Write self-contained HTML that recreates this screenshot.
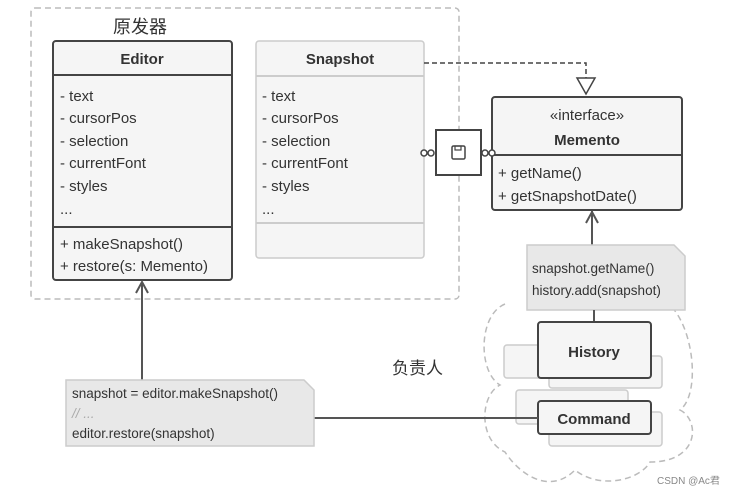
<!DOCTYPE html>
<html><head><meta charset="utf-8"><style>
body{margin:0;background:#fff}
svg{display:block}
text{font-family:"Liberation Sans","Noto Sans CJK SC",sans-serif;fill:#333}
</style></head><body>
<svg width="733" height="495" viewBox="0 0 733 495" xmlns="http://www.w3.org/2000/svg">
<rect x="31" y="8" width="428" height="291" rx="4" fill="none" stroke="#bbb" stroke-width="1.5" stroke-dasharray="6,4"/>
<text x="113" y="33" font-size="18">原发器</text>

<!-- cloud -->
<path d="M505,304 C478,315 478,372 500,385 C480,395 478,440 505,452 C520,475 550,495 575,470 C600,490 640,480 650,462 C700,462 700,420 680,410 C700,395 695,330 670,305" fill="none" stroke="#bbb" stroke-width="1.5" stroke-dasharray="6,4"/>

<!-- Editor -->
<rect x="53" y="41" width="179" height="239" rx="3" fill="#f5f5f5" stroke="#444" stroke-width="2"/>
<line x1="53" y1="75" x2="232" y2="75" stroke="#444" stroke-width="2"/>
<line x1="53" y1="227" x2="232" y2="227" stroke="#444" stroke-width="2"/>
<text x="142" y="64" font-size="15" font-weight="bold" text-anchor="middle">Editor</text>
<g font-size="15"><text x="60" y="101">- text</text><text x="60" y="123">- cursorPos</text><text x="60" y="146">- selection</text><text x="60" y="168">- currentFont</text><text x="60" y="191">- styles</text><text x="60" y="214">...</text>
<text x="60" y="249">+ makeSnapshot()</text><text x="60" y="271">+ restore(s: Memento)</text></g>

<!-- Snapshot -->
<rect x="256" y="41" width="168" height="217" rx="3" fill="#f5f5f5" stroke="#ccc" stroke-width="1.5"/>
<line x1="256" y1="76" x2="424" y2="76" stroke="#ccc" stroke-width="2"/>
<line x1="256" y1="223" x2="424" y2="223" stroke="#ccc" stroke-width="2"/>
<text x="340" y="64" font-size="15" font-weight="bold" text-anchor="middle">Snapshot</text>
<g font-size="15"><text x="262" y="101">- text</text><text x="262" y="123">- cursorPos</text><text x="262" y="146">- selection</text><text x="262" y="168">- currentFont</text><text x="262" y="191">- styles</text><text x="262" y="214">...</text></g>

<!-- realization -->
<path d="M424,63 H586 V78" fill="none" stroke="#444" stroke-width="1.5" stroke-dasharray="5,3"/>
<path d="M577,78 L595,78 L586,94 Z" fill="#fff" stroke="#444" stroke-width="1.5"/>

<!-- Memento -->
<rect x="492" y="97" width="190" height="113" rx="3" fill="#f5f5f5" stroke="#444" stroke-width="2"/>
<line x1="492" y1="155" x2="682" y2="155" stroke="#444" stroke-width="2"/>
<text x="587" y="120" font-size="15" text-anchor="middle">«interface»</text>
<text x="587" y="145" font-size="15" font-weight="bold" text-anchor="middle">Memento</text>
<text x="498" y="178" font-size="15">+ getName()</text>
<text x="498" y="201" font-size="15">+ getSnapshotDate()</text>

<!-- save icon -->
<rect x="436" y="130" width="45" height="45" fill="#fff" stroke="#444" stroke-width="2"/>
<rect x="452" y="146" width="13" height="13" rx="1.5" fill="none" stroke="#444" stroke-width="1.5"/>
<rect x="455" y="146" width="6" height="4" fill="none" stroke="#444" stroke-width="1.2"/>
<g fill="#fff" stroke="#444" stroke-width="1.5"><circle cx="424" cy="153" r="3"/><circle cx="431" cy="153" r="3"/><circle cx="485" cy="153" r="3"/><circle cx="492" cy="153" r="3"/></g>

<!-- arrow to Memento -->
<line x1="592" y1="211" x2="592" y2="245" stroke="#555" stroke-width="2"/>
<path d="M586,223 L592,212 L598,223" fill="none" stroke="#555" stroke-width="2"/>
<!-- note 1 -->
<path d="M527,245 H674 L685,256 V310 H527 Z" fill="#e8e8e8" stroke="#ccc" stroke-width="1.5"/>
<text x="532" y="273" font-size="13.5">snapshot.getName()</text>
<text x="532" y="295" font-size="13.5">history.add(snapshot)</text>
<line x1="594" y1="310" x2="594" y2="322" stroke="#555" stroke-width="2"/>

<!-- shadow boxes -->
<g fill="#f5f5f5" stroke="#ccc" stroke-width="1.5">
<rect x="504" y="345" width="50" height="33" rx="3"/>
<rect x="549" y="356" width="113" height="32" rx="3"/>
<rect x="516" y="390" width="112" height="34" rx="3"/>
<rect x="549" y="412" width="113" height="34" rx="3"/>
</g>
<rect x="538" y="322" width="113" height="56" rx="3" fill="#f5f5f5" stroke="#444" stroke-width="2"/>
<text x="594" y="357" font-size="15" font-weight="bold" text-anchor="middle">History</text>
<rect x="538" y="401" width="113" height="33" rx="3" fill="#f5f5f5" stroke="#444" stroke-width="2"/>
<text x="594" y="424" font-size="15" font-weight="bold" text-anchor="middle">Command</text>

<text x="392" y="374" font-size="17">负责人</text>

<!-- note 2 -->
<line x1="314" y1="418" x2="538" y2="418" stroke="#555" stroke-width="2"/>
<line x1="142" y1="282" x2="142" y2="380" stroke="#555" stroke-width="2"/>
<path d="M136,293 L142,282 L148,293" fill="none" stroke="#555" stroke-width="2"/>
<path d="M66,380 H304 L314,390 V446 H66 Z" fill="#e8e8e8" stroke="#ccc" stroke-width="1.5"/>
<text x="72" y="398" font-size="13.5">snapshot = editor.makeSnapshot()</text>
<text x="72" y="418" font-size="13.5" font-style="italic" style="fill:#aaa">// ...</text>
<text x="72" y="438" font-size="13.5">editor.restore(snapshot)</text>

<text x="657" y="484" font-size="10" style="fill:#888">CSDN @Ac君</text>
</svg>
</body></html>
